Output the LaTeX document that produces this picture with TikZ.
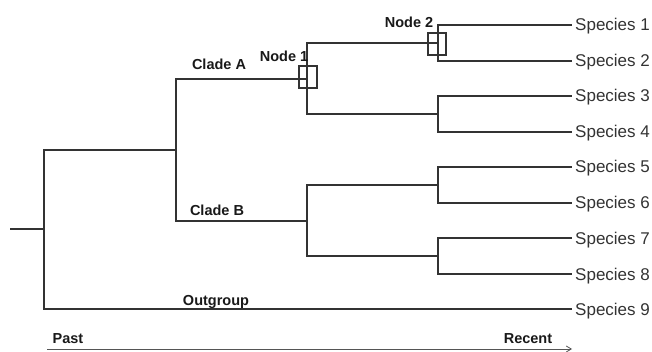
\documentclass[tikz,border=0pt]{standalone}
\usepackage{fontspec}
\setmainfont{Liberation Sans}
\usetikzlibrary{arrows.meta}
\definecolor{treeline}{HTML}{333333}
\definecolor{spcol}{HTML}{333333}
\definecolor{axiscol}{HTML}{555555}
\tikzset{
  branch/.style={draw=treeline, line width=1.8pt, line cap=rect},
  nodebox/.style={draw=treeline, line width=1.2pt, minimum width=18pt, minimum height=22pt, inner sep=0pt},
  spname/.style={anchor=base west, inner sep=0pt, text=spcol, font=\fontsize{17}{20}\selectfont},
  blabel/.style={anchor=base, inner sep=0pt, font=\fontsize{14.5}{16}\selectfont\bfseries, text=black!90},
  timeaxis/.style={draw=axiscol, line width=0.8pt, -{Straight Barb[length=5pt,width=6pt,line width=0.8pt]}}
}
\begin{document}
\begin{tikzpicture}[x=1pt,y=-1pt]
\useasboundingbox (0,0) rectangle (652,352);
% internal nodes
\coordinate (stem) at (11,229);
\coordinate (root) at (44,229);
\coordinate (nAB) at (176,150);
\coordinate (nA) at (307,79);
\coordinate (nB) at (307,221);
\coordinate (n12) at (438,43);
\coordinate (n34) at (438,114);
\coordinate (n56) at (438,185);
\coordinate (n78) at (438,256);
% tips
\foreach \i/\y in {1/25,2/61,3/96,4/132,5/167,6/203,7/238,8/274,9/309}{
  \coordinate (t\i) at (571,\y);
  \node[spname] (s\i) at (575,\y+6) {Species \i};
}
% branches
\draw[branch] (stem) -- (root);
\draw[branch] (root) |- (nAB);
\draw[branch] (root) |- (t9);
\draw[branch] (nAB) |- (nA);
\draw[branch] (nAB) |- (nB);
\draw[branch] (nA) |- (n12);
\draw[branch] (nA) |- (n34);
\draw[branch] (nB) |- (n56);
\draw[branch] (nB) |- (n78);
\draw[branch] (n12) |- (t1);
\draw[branch] (n12) |- (t2);
\draw[branch] (n34) |- (t3);
\draw[branch] (n34) |- (t4);
\draw[branch] (n56) |- (t5);
\draw[branch] (n56) |- (t6);
\draw[branch] (n78) |- (t7);
\draw[branch] (n78) |- (t8);
% node boxes
\node[nodebox] (box1) at (308,77) {};
\node[nodebox] (box2) at (437,44) {};
% labels
\node[blabel] (lcladeA) at (219,70) {Clade A};
\node[blabel] (lnode1) at (284,62) {Node 1};
\node[blabel] (lnode2) at (409,28) {Node 2};
\node[blabel] (lcladeB) at (217,216) {Clade B};
\node[blabel] (lout) at (216,305) {Outgroup};
% time axis
\coordinate (past) at (47,349);
\coordinate (recent) at (572,349);
\draw[timeaxis] (past) -- (recent);
\node[blabel] (lpast) at (68,343) {Past};
\node[blabel] (lrecent) at (528,343) {Recent};
\end{tikzpicture}
\end{document}
